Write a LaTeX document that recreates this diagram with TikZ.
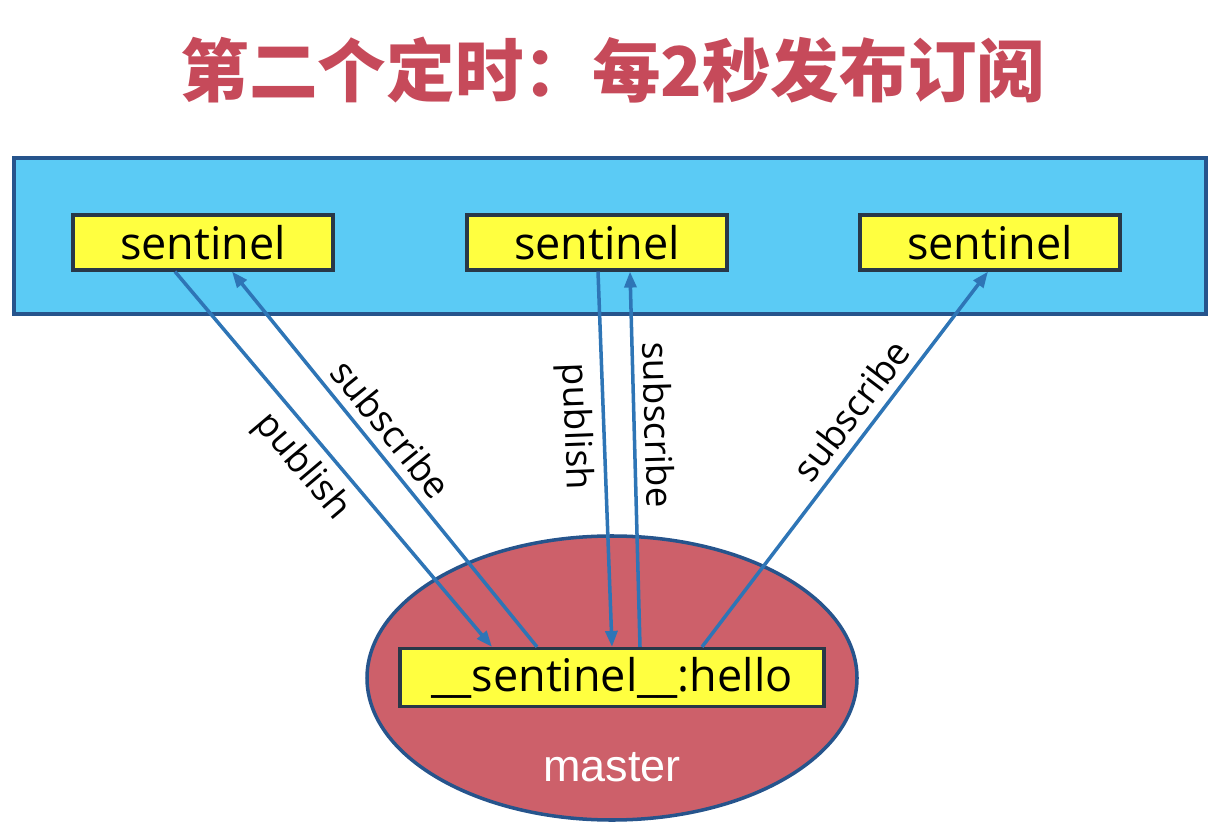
\documentclass[tikz,border=0pt]{standalone}
\usepackage{fontspec}
\setmainfont{Open Sans}
\newfontfamily\cjk{Noto Sans CJK SC}
\newfontfamily\masterfont{Liberation Sans}
\usetikzlibrary{shapes.geometric,arrows.meta}
\definecolor{titlered}{RGB}{198,74,90}
\definecolor{panelblue}{RGB}{91,203,245}
\definecolor{panelline}{RGB}{38,84,140}
\definecolor{sentyellow}{RGB}{255,255,64}
\definecolor{boxline}{RGB}{40,56,72}
\definecolor{masterred}{RGB}{205,96,106}
\definecolor{arrowblue}{RGB}{46,117,182}
\begin{document}
\begin{tikzpicture}[>={Triangle[length=1.6mm,width=1.2mm]},
  sentbox/.style={draw=boxline,line width=0.9pt,fill=sentyellow,minimum width=2.6cm,
    minimum height=0.55cm,inner sep=0pt,font=\fontsize{12.8}{14}\selectfont},
  msg/.style={->,draw=arrowblue,line width=1pt},
  lbl/.style={sloped,font=\fontsize{10.5}{12}\selectfont,inner sep=2.5pt}]
 \useasboundingbox (0,0) rectangle (12.3,8.34);
 % title
 \node[font=\cjk\bfseries\fontsize{19.5}{22}\selectfont,text=titlered] (title) at (6.13,7.64) {第二个定时：每2秒发布订阅};
 % sentinels
 \node[draw=panelline,line width=1pt,fill=panelblue,minimum width=11.92cm,minimum height=1.56cm] (panel) at (6.10,5.98) {};
 \node[sentbox] (s1) at (2.03,5.915) {sentinel};
 \node[sentbox] (s2) at (5.97,5.915) {sentinel};
 \node[sentbox] (s3) at (9.90,5.915) {sentinel};
 % master
 \node[ellipse,draw=panelline,line width=1pt,fill=masterred,minimum width=4.9cm,minimum height=2.84cm] (master) at (6.12,1.56) {};
 \node[sentbox,minimum width=4.24cm,minimum height=0.58cm] (topic) at (6.12,1.565) {\_\_sentinel\_\_:hello};
 \node[font=\masterfont\fontsize{12.8}{14}\selectfont,text=white] (mname) at (6.12,0.67) {master};
 % channels
 \draw[msg] ([xshift=-2.8mm]s1.south) -- node[lbl,below,pos=0.47] {publish} ([xshift=-12mm]topic.north);
 \draw[msg] ([xshift=-7.5mm]topic.north) -- node[lbl,above,pos=0.54] {subscribe} ([xshift=2.9mm]s1.south);
 \draw[msg] ([xshift=0.1mm]s2.south) -- node[lbl,below,pos=0.41] {publish} (topic.north);
 \draw[msg] ([xshift=2.8mm]topic.north) -- node[lbl,above,pos=0.59] {subscribe} ([xshift=3.3mm]s2.south);
 \draw[msg] ([xshift=9mm]topic.north) -- node[lbl,above,pos=0.59] {subscribe} ([xshift=-0.2mm]s3.south);
\end{tikzpicture}
\end{document}
